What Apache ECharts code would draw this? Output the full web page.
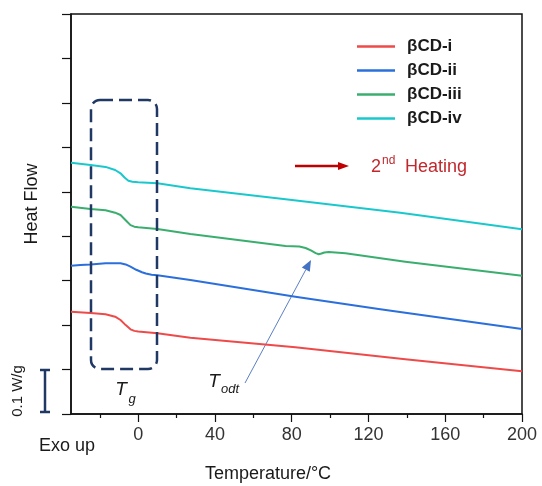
<!DOCTYPE html>
<html><head><meta charset="utf-8">
<script src="https://cdn.jsdelivr.net/npm/echarts@6/dist/echarts.min.js"></script>
<style>html,body{margin:0;padding:0;background:#fff}#c{width:542px;height:486px}</style>
</head><body><div id="c"></div>
<script>
// Data (temperature in °C, heat flow in grid units, 1 unit = tick spacing)
const seriesNames = ['βCD-i', 'βCD-ii', 'βCD-iii', 'βCD-iv'];
const xLabelValues = [0, 40, 80, 120, 160, 200];
const xMinorTicks = [-20, 20, 60, 100, 140, 180];

const tempI   = [-35, -24.8, -17, -12, -9.2, -6.5, -4, -2, 0, 10, 27.2, 81.9, 139.2, 200];
const flowI   = [2.302, 2.273, 2.245, 2.19, 2.115, 2.0, 1.905, 1.87, 1.855, 1.816, 1.717, 1.50, 1.23, 0.961];

const tempII  = [-35, -30.1, -24.8, -17, -9.2, -6.5, -4, -1, 2, 4, 7, 10, 27.2, 81.9, 126.2, 139.2, 200];
const flowII  = [3.337, 3.353, 3.364, 3.391, 3.391, 3.365, 3.315, 3.245, 3.19, 3.16, 3.135, 3.121, 3.015, 2.64, 2.356, 2.28, 1.913];

const tempIII = [-35, -24.8, -17, -12, -9.2, -6.5, -4, -2, 0, 10, 27.2, 76.8, 84, 87.2, 90, 92.5, 94.1, 95.5, 97, 99.3, 108, 139.2, 200];
const flowIII = [4.665, 4.613, 4.585, 4.53, 4.478, 4.36, 4.25, 4.215, 4.2, 4.163, 4.050, 3.78, 3.768, 3.735, 3.68, 3.62, 3.595, 3.61, 3.635, 3.645, 3.616, 3.427, 3.112];

const tempIV  = [-35, -24.8, -17, -12, -9.2, -7.1, -5.1, -3, 0, 10, 27.2, 76.8, 136.6, 200];
const flowIV  = [5.655, 5.603, 5.56, 5.49, 5.416, 5.32, 5.25, 5.227, 5.215, 5.191, 5.079, 4.831, 4.530, 4.156];

const colors = ['#ef4a4a', '#2a6fdb', '#3aae6e', '#19c8cc'];

const pair = (t, v) => t.map((x, i) => [x, v[i]]);
const allData = [pair(tempI, flowI), pair(tempII, flowII), pair(tempIII, flowIII), pair(tempIV, flowIV)];

const FONT = '"Liberation Sans", Arial, sans-serif';
const chart = echarts.init(document.getElementById('c'), null, {renderer: 'canvas'});

const navy = '#1f3864';
const txt = (x, y, text, size, extra) => Object.assign({
  type: 'text', x: x, y: y,
  style: Object.assign({text: text, font: size + 'px ' + FONT, fill: '#1a1a1a', align: 'center', verticalAlign: 'middle'}, extra || {})
});

chart.setOption({
  animation: false,
  backgroundColor: '#fff',
  grid: {left: 71, right: 20, top: 14, bottom: 72, show: true, borderColor: '#111', borderWidth: 1.5, backgroundColor: 'transparent'},
  legend: {
    data: seriesNames, orient: 'vertical', left: 357, top: 38, padding: 0,
    icon: 'rect', itemWidth: 38, itemHeight: 2.5, itemGap: 7,
    textStyle: {fontFamily: FONT, fontSize: 17, fontWeight: 'bold', color: '#1a1a1a', padding: [0, 0, 0, 7]}
  },
  xAxis: [{
    type: 'value', min: -35, max: 200,
    axisLine: {show: true, onZero: false, lineStyle: {color: '#111', width: 1.5}},
    axisTick: {show: true, length: 8, customValues: xLabelValues, lineStyle: {color: '#111', width: 1.2}},
    axisLabel: {customValues: xLabelValues, fontFamily: FONT, fontSize: 18, color: '#333', margin: 12},
    splitLine: {show: false}
  }, {
    type: 'value', min: -35, max: 200, position: 'bottom',
    axisLine: {show: false, onZero: false},
    axisTick: {show: true, length: 4, customValues: xMinorTicks, lineStyle: {color: '#111', width: 1.2}},
    axisLabel: {show: false},
    splitLine: {show: false}
  }],
  yAxis: {
    type: 'value', min: 0, max: 9, interval: 1,
    axisLine: {show: true, onZero: false, lineStyle: {color: '#111', width: 1.5}},
    axisTick: {show: true, length: 9, lineStyle: {color: '#111', width: 1.2}},
    axisLabel: {show: false},
    splitLine: {show: false}
  },
  series: seriesNames.map((n, i) => ({
    name: n, type: 'line', data: allData[i], showSymbol: false, smooth: false,
    color: colors[i], lineStyle: {width: 2, color: colors[i], join: 'round'}
  })),
  graphic: [
    // Tg dashed box
    {type: 'rect', shape: {x: 91, y: 100, width: 66, height: 269, r: 9},
     style: {fill: 'none', stroke: navy, lineWidth: 2.5, lineDash: [13, 6]}, z: 10},
    // Tg label
    txt(121, 390, 'T', 19, {font: 'italic 19px ' + FONT}),
    txt(132, 399, 'g', 13, {font: 'italic 13px ' + FONT}),
    // Todt label
    txt(214, 382, 'T', 19, {font: 'italic 19px ' + FONT}),
    txt(230, 389, 'odt', 13, {font: 'italic 13px ' + FONT}),
    // Todt arrow
    {type: 'line', shape: {x1: 245, y1: 383, x2: 305.8, y2: 269.7}, style: {stroke: '#5b7fc4', lineWidth: 1}},
    {type: 'polygon', shape: {points: [[311, 260], [309.8, 271.8], [301.8, 267.6]]}, style: {fill: '#4472c4'}},
    // Heating arrow
    {type: 'line', shape: {x1: 295, y1: 166, x2: 340, y2: 166}, style: {stroke: '#c00000', lineWidth: 2.5}},
    {type: 'polygon', shape: {points: [[349, 166], [338, 162], [338, 170]]}, style: {fill: '#c00000'}},
    txt(371, 167, '2', 18, {fill: '#c0282d', align: 'left'}),
    txt(382, 161, 'nd', 12, {fill: '#c0282d', align: 'left'}),
    txt(405, 167, 'Heating', 18, {fill: '#c0282d', align: 'left'}),
    // scale bar
    {type: 'line', shape: {x1: 45, y1: 370, x2: 45, y2: 412}, style: {stroke: navy, lineWidth: 2.5}},
    {type: 'line', shape: {x1: 40, y1: 370, x2: 50, y2: 370}, style: {stroke: navy, lineWidth: 2.5}},
    {type: 'line', shape: {x1: 40, y1: 412, x2: 50, y2: 412}, style: {stroke: navy, lineWidth: 2.5}},
    Object.assign(txt(18, 391, '0.1 W/g', 15), {rotation: Math.PI / 2}),
    // axis titles
    Object.assign(txt(32, 204, 'Heat Flow', 18), {rotation: Math.PI / 2}),
    txt(67, 446, 'Exo up', 18),
    txt(268, 474, 'Temperature/°C', 18)
  ]
});
</script></body></html>
